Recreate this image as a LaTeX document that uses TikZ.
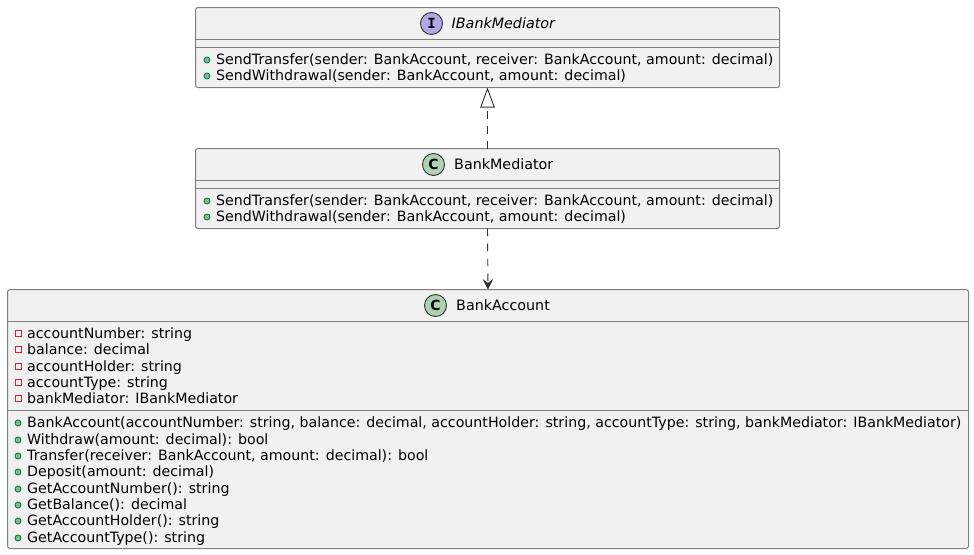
\documentclass[tikz,border=0pt]{standalone}
\usepackage{fontspec}
\setmainfont{DejaVu Sans}
\newfontfamily\iconfont{DejaVu Sans Mono}
\usetikzlibrary{arrows.meta}
\definecolor{boxfill}{HTML}{F1F1F1}
\definecolor{boxline}{HTML}{7E7E7E}
\definecolor{linkline}{HTML}{303030}
\definecolor{ifacefill}{HTML}{B4A7E5}
\definecolor{classfill}{HTML}{ADD1B2}
\definecolor{pubfill}{HTML}{84BE84}
\definecolor{publine}{HTML}{038048}
\definecolor{privline}{HTML}{C82930}
\tikzset{
  umlbox/.style = {draw = boxline, fill = boxfill, line width = 1pt, rounded corners = 2.5pt, inner sep = 0, outer sep = 0},
  sepline/.style = {draw = boxline, line width = 1pt},
  icon/.style = {circle, draw = linkline, line width = .9pt, minimum size = 22pt, inner sep = 0, font = \bfseries\fontsize{14pt}{14pt}\selectfont},
  title/.style = {anchor = base west, inner sep = 0, font = \fontsize{14.3pt}{16pt}\selectfont},
  member/.style = {anchor = base west, inner sep = 0, font = \fontsize{14.2pt}{16pt}\selectfont},
  pub/.style = {circle, draw = publine, fill = pubfill, line width = .9pt, minimum size = 6pt, inner sep = 0},
  priv/.style = {rectangle, draw = privline, line width = 1pt, minimum size = 6pt, inner sep = 0},
  link/.style = {draw = linkline, line width = .9pt, dash pattern = on 7.5pt off 7.5pt}
}
\begin{document}
\begin{tikzpicture}[x = 1pt, y = -1pt]
\useasboundingbox (0,0) rectangle (974,554);
% interface
\node (ibm) [umlbox, minimum width = 584pt, minimum height = 80pt] at (487.5,47.5) {};
\draw [sepline] ([yshift = -32pt]ibm.north west) -- ([yshift = -32pt]ibm.north east);
\draw [sepline] ([yshift = -40pt]ibm.north west) -- ([yshift = -40pt]ibm.north east);
\node (ibmicon) [icon, fill = ifacefill] at (431.5,23.5) {\iconfont I};
\node (ibmname) [title] at (451.5,28.5) {\itshape IBankMediator};
\foreach \y/\txt in {64/{SendTransfer(sender: BankAccount, receiver: BankAccount, amount: decimal)},
                     80/{SendWithdrawal(sender: BankAccount, amount: decimal)}}{
  \node (ibmpub\y) [pub] at (207,\y-4) {};
  \node (ibmop\y) [member] at (216,\y) {\txt};
}
% mediator
\node (bm) [umlbox, minimum width = 584pt, minimum height = 80pt] at (487.5,188.5) {};
\draw [sepline] ([yshift = -32pt]bm.north west) -- ([yshift = -32pt]bm.north east);
\draw [sepline] ([yshift = -40pt]bm.north west) -- ([yshift = -40pt]bm.north east);
\node (bmicon) [icon, fill = classfill] at (433.5,164.5) {C};
\node (bmname) [title] at (454,169.5) {BankMediator};
\foreach \y/\txt in {205/{SendTransfer(sender: BankAccount, receiver: BankAccount, amount: decimal)},
                     221/{SendWithdrawal(sender: BankAccount, amount: decimal)}}{
  \node (bmpub\y) [pub] at (207,\y-4) {};
  \node (bmop\y) [member] at (216,\y) {\txt};
}
% account
\node (ba) [umlbox, minimum width = 961pt, minimum height = 259pt] at (488,419) {};
\draw [sepline] ([yshift = -32pt]ba.north west) -- ([yshift = -32pt]ba.north east);
\draw [sepline] ([yshift = -121pt]ba.north west) -- ([yshift = -121pt]ba.north east);
\node (baicon) [icon, fill = classfill] at (435.5,305.5) {C};
\node (baname) [title] at (456,310.5) {BankAccount};
\foreach \y/\txt in {338/{accountNumber: string}, 354/{balance: decimal}, 371/{accountHolder: string},
                     387/{accountType: string}, 403/{bankMediator: IBankMediator}}{
  \node (bapriv\y) [priv] at (18,\y-4.5) {};
  \node (baattr\y) [member] at (27,\y) {\txt};
}
\foreach \y/\txt in {427/{BankAccount(accountNumber: string, balance: decimal, accountHolder: string, accountType: string, bankMediator: IBankMediator)},
                     444/{Withdraw(amount: decimal): bool},
                     460/{Transfer(receiver: BankAccount, amount: decimal): bool},
                     476/{Deposit(amount: decimal)},
                     493/{GetAccountNumber(): string},
                     509/{GetBalance(): decimal},
                     525/{GetAccountHolder(): string},
                     542/{GetAccountType(): string}}{
  \node (bapub\y) [pub] at (18,\y-4) {};
  \node (baop\y) [member] at (27,\y) {\txt};
}
% links
\draw [link, -{Triangle[open, length = 20pt, width = 14.5pt, line width = .9pt]}] (bm.north) -- (ibm.south);
\draw [link, -{Stealth[length = 10.5pt, width = 10.5pt, inset = 4pt]}] (bm.south) -- (ba.north);
\end{tikzpicture}
\end{document}
